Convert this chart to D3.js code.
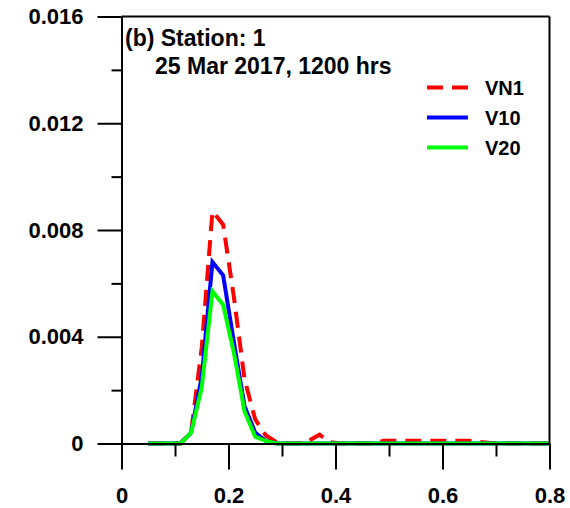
<!DOCTYPE html>
<html><head><meta charset="utf-8">
<script src="https://cdn.jsdelivr.net/npm/d3@7"></script>
<style>
body{margin:0;background:#fff;}
svg{display:block;font-family:"Liberation Sans",Arial,sans-serif;font-weight:bold;}
</style></head>
<body><svg id="c" width="570" height="508"></svg>
<script>
const sizes = [0.05,0.07,0.09,0.11,0.13,0.15,0.17,0.19,0.21,0.23,0.25,0.27,0.29,0.31,0.33,0.35,0.37,0.39,0.41,0.43,0.45,0.47,0.49,0.51,0.53,0.55,0.57,0.59,0.61,0.63,0.65,0.67,0.69,0.71,0.73,0.75,0.77,0.79,0.80];
const VN1 = [0,0,0,0,0.0004,0.0036,0.0087,0.0082,0.0055,0.0024,0.0009,0.0003,0.00005,0,0,0.0001,0.00033,0.00005,0,0,0,0,0.0001,0.0001,0.0001,0.0001,0.0001,0.0001,0.0001,0.0001,0.0001,0.00006,0.00002,0,0,0,0,0,0];
const V10 = [0,0,0,0,0.0004,0.0025,0.0068,0.0063,0.0038,0.0014,0.0004,0.0001,0,0,0,0,0,0,0,0,0,0,0,0,0,0,0,0,0,0,0,0,0,0,0,0,0,0,0];
const V20 = [0,0,0,0,0.0004,0.0021,0.0057,0.0052,0.0034,0.0012,0.00025,0.0001,0,0,0,0,0,0,0,0,0,0,0,0,0,0,0,0,0,0,0,0,0,0,0,0,0,0,0];
const xTicks = [0,0.2,0.4,0.6,0.8];
const xMinor = [0.1,0.3,0.5,0.7];
const yTicks = [0,0.004,0.008,0.012,0.016];
const yMinor = [0.002,0.006,0.010,0.014];
const seriesNames = ["VN1","V10","V20"];
const seriesColors = ["#ff0000","#0000ff","#00ff00"];
const titleLines = ["(b) Station: 1","25 Mar 2017, 1200 hrs"];

const svg = d3.select("#c");
const L=121.5, R=549.5, T=16.5, B=443.5;
const x = d3.scaleLinear().domain([0,0.8]).range([L,R]);
const y = d3.scaleLinear().domain([0,0.016]).range([B,T]);

const series = [VN1,V10,V20];
const line = d3.line().x((d,i)=>x(sizes[i])).y(d=>y(d));
series.forEach((s,k)=>{
  svg.append("path").datum(s).attr("d",line)
    .attr("fill","none").attr("stroke",seriesColors[k]).attr("stroke-width",4)
    .attr("stroke-linejoin","miter")
    .attr("stroke-dasharray",k===0?"16,9":null);
});

// axes
const fmt = d=> d===0?"0":String(d);
svg.append("g").attr("transform",`translate(${L},0)`)
  .call(d3.axisLeft(y).tickValues(yTicks).tickSize(24).tickSizeOuter(0).tickPadding(14).tickFormat(fmt));
svg.append("g").attr("transform",`translate(${L},0)`)
  .call(d3.axisLeft(y).tickValues(yMinor).tickSize(10).tickSizeOuter(0).tickFormat(""));
svg.append("g").attr("transform",`translate(0,${B})`)
  .call(d3.axisBottom(x).tickValues(xTicks).tickSize(26).tickSizeOuter(0).tickPadding(18).tickFormat(fmt));
svg.append("g").attr("transform",`translate(0,${B})`)
  .call(d3.axisBottom(x).tickValues(xMinor).tickSize(13).tickSizeOuter(0).tickFormat(""));
svg.selectAll(".domain, .tick line").attr("stroke","#000").attr("stroke-width",2);
svg.selectAll(".tick text").attr("font-size",22).attr("font-weight","bold").attr("fill","#000")
  .attr("font-family","'Liberation Sans',Arial,sans-serif");
// frame top/right
svg.append("line").attr("x1",L).attr("x2",R).attr("y1",T).attr("y2",T).attr("stroke","#000").attr("stroke-width",2);
svg.append("line").attr("x1",R).attr("x2",R).attr("y1",T).attr("y2",B).attr("stroke","#000").attr("stroke-width",2);

// title
svg.append("text").attr("x",125).attr("y",46).attr("font-size",23).text(titleLines[0]);
svg.append("text").attr("x",155).attr("y",74).attr("font-size",23).text(titleLines[1]);

// legend
const ly = [87.5,117.5,147.5];
seriesNames.forEach((n,k)=>{
  svg.append("line").attr("x1",427).attr("x2",468).attr("y1",ly[k]).attr("y2",ly[k])
    .attr("stroke",seriesColors[k]).attr("stroke-width",4)
    .attr("stroke-dasharray",k===0?"16,9":null);
  svg.append("text").attr("x",485).attr("y",ly[k]+7).attr("font-size",20).text(n);
});
</script></body></html>
